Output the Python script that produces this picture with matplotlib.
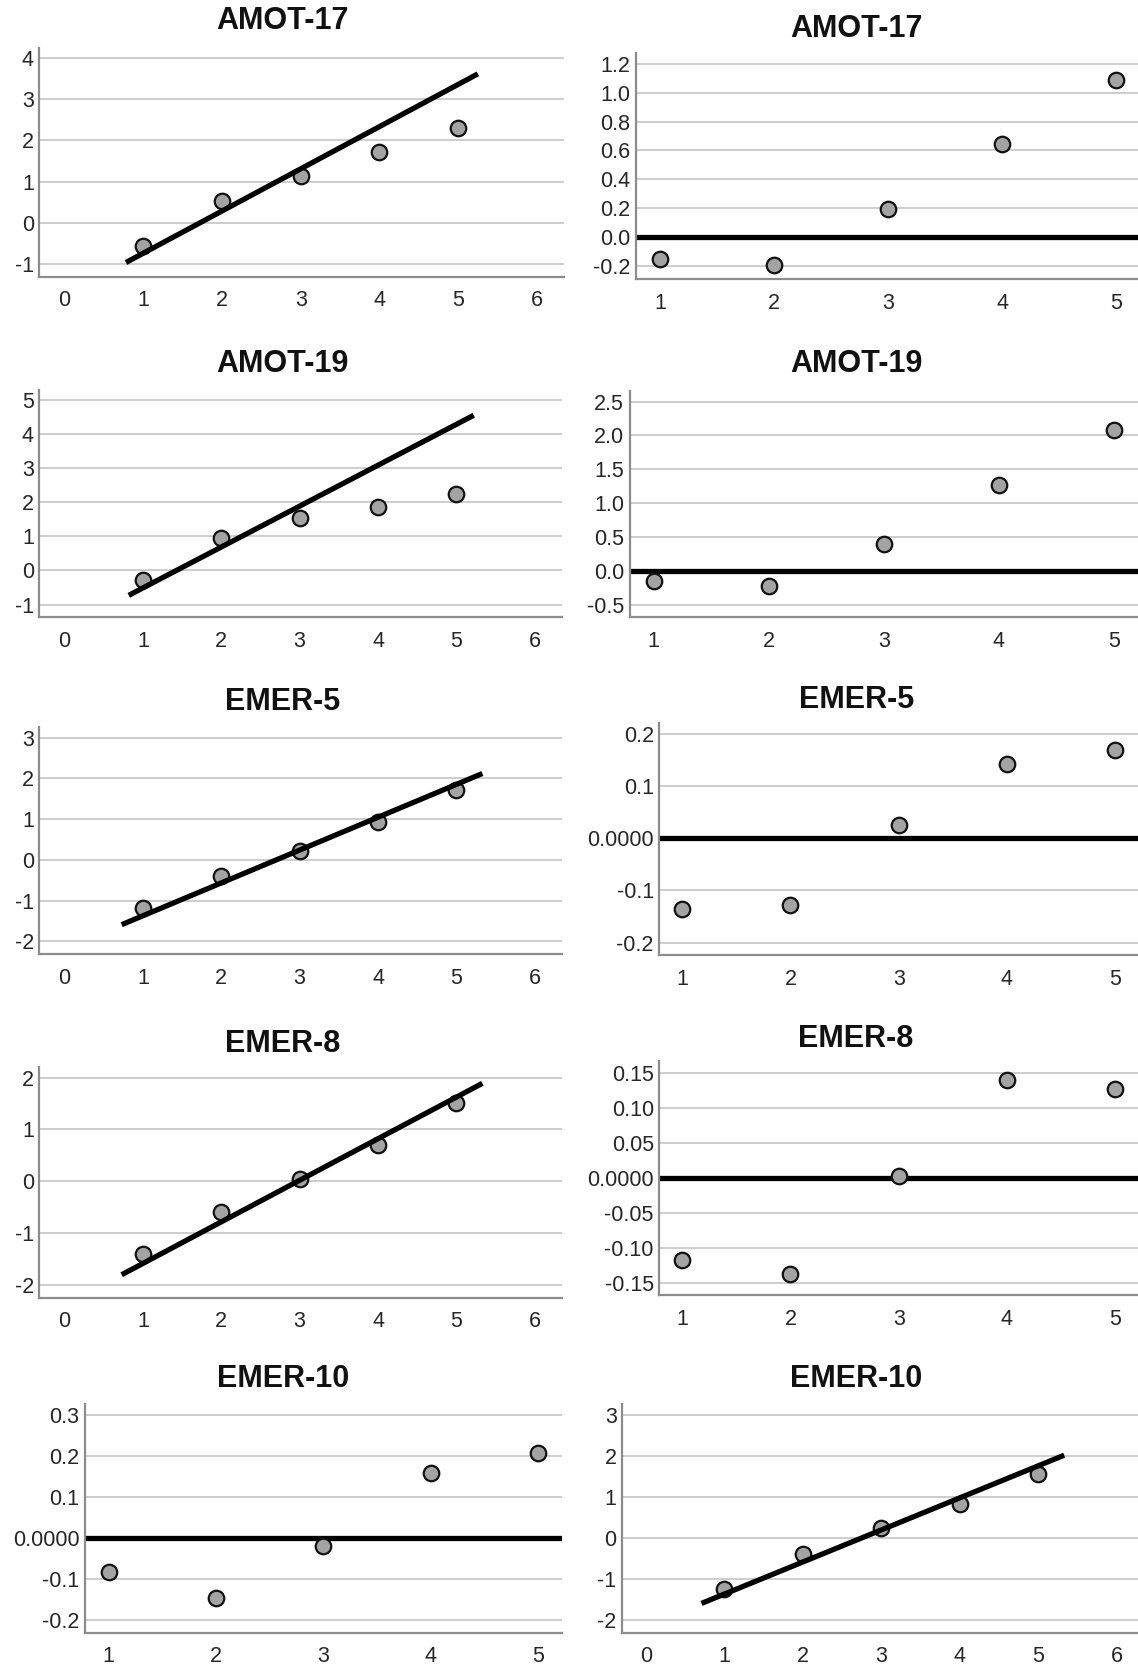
"""Normal Q-Q and detrended Q-Q panels for five items."""

import matplotlib
matplotlib.use("Agg")
import matplotlib.pyplot as plt

plt.rcParams["font.family"] = ["Liberation Sans", "DejaVu Sans"]

# observed values on the x axis (same for every panel)
OBSERVED = [1, 2, 3, 4, 5]

# AMOT-17
AMOT17_EXPECTED = [-0.55, 0.52, 1.14, 1.72, 2.30]
AMOT17_LINE_X = [0.78, 5.25]
AMOT17_LINE_Y = [-0.96, 3.61]
AMOT17_DEVIATION = [-0.154, -0.193, 0.195, 0.645, 1.09]

# AMOT-19
AMOT19_EXPECTED = [-0.29, 0.95, 1.52, 1.86, 2.23]
AMOT19_LINE_X = [0.82, 5.22]
AMOT19_LINE_Y = [-0.73, 4.54]
AMOT19_DEVIATION = [-0.153, -0.217, 0.39, 1.262, 2.084]

# EMER-5
EMER5_EXPECTED = [-1.19, -0.39, 0.22, 0.92, 1.72]
EMER5_LINE_X = [0.73, 5.33]
EMER5_LINE_Y = [-1.59, 2.12]
EMER5_DEVIATION = [-0.135, -0.128, 0.025, 0.143, 0.169]

# EMER-8
EMER8_EXPECTED = [-1.41, -0.60, 0.04, 0.70, 1.52]
EMER8_LINE_X = [0.73, 5.33]
EMER8_LINE_Y = [-1.80, 1.89]
EMER8_DEVIATION = [-0.118, -0.138, 0.002, 0.139, 0.126]

# EMER-10
EMER10_EXPECTED = [-1.26, -0.40, 0.23, 0.82, 1.56]
EMER10_LINE_X = [0.71, 5.33]
EMER10_LINE_Y = [-1.60, 2.01]
EMER10_DEVIATION = [-0.084, -0.148, -0.019, 0.157, 0.207]

QQ_XTICKS = [0, 1, 2, 3, 4, 5, 6]
DETR_XTICKS = [1, 2, 3, 4, 5]

W, H = 1138, 1667
S = W / 1070  # layout measured on the 1070 px preview

fig = plt.figure(figsize=(W / 100, H / 100), dpi=100)

POINT_FACE = "#a3a3a3"
GRID = "#cdcdcd"
SPINE = "#8c8c8c"
TEXT = "#262626"


def make_axes(left, top, right, bottom, title, title_x, title_y):
    ax = fig.add_axes([left * S / W, 1 - bottom * S / H,
                       (right - left) * S / W, (bottom - top) * S / H])
    fig.text(title_x * S / W, 1 - title_y * S / H, title, ha="center",
             va="center", fontsize=22, fontweight="bold", color="#111111")
    return ax


def style(ax, xlim, xticks, ylim, yticks, ylabels):
    ax.set_xlim(*xlim)
    ax.set_ylim(*ylim)
    ax.set_xticks(xticks)
    ax.set_yticks(yticks)
    ax.set_yticklabels(ylabels)
    ax.tick_params(axis="both", length=0, labelsize=15.5, labelcolor=TEXT)
    ax.tick_params(axis="x", pad=10)
    ax.tick_params(axis="y", pad=4)
    for side in ("top", "right"):
        ax.spines[side].set_visible(False)
    for side in ("left", "bottom"):
        ax.spines[side].set_color(SPINE)
        ax.spines[side].set_linewidth(1.6)
    ax.yaxis.grid(True, color=GRID, linewidth=1.4)
    ax.set_axisbelow(True)


def qq_panel(ax, expected, line_x, line_y, ylim, yticks, ylabels,
             xlim=(-0.32, 6.34)):
    ax.scatter(OBSERVED, expected, s=125, c=POINT_FACE, edgecolors="#111111",
               linewidths=1.6, zorder=3)
    ax.plot(line_x, line_y, color="black", linewidth=3.8,
            solid_capstyle="butt", zorder=4)
    style(ax, xlim, QQ_XTICKS, ylim, yticks, ylabels)


def detrended_panel(ax, deviation, ylim, yticks, ylabels, xlim=(0.79, 5.21)):
    ax.axhline(0, color="black", linewidth=3.8, zorder=2)
    ax.scatter(OBSERVED, deviation, s=125, c=POINT_FACE, edgecolors="#111111",
               linewidths=1.6, zorder=3)
    style(ax, xlim, DETR_XTICKS, ylim, yticks, ylabels)


LEFT_X, RIGHT_X = 266, 805

# row 1
ax = make_axes(37, 45, 530, 260, "AMOT-17", LEFT_X, 20)
qq_panel(ax, AMOT17_EXPECTED, AMOT17_LINE_X, AMOT17_LINE_Y, (-1.30, 4.24),
         [-1, 0, 1, 2, 3, 4], ["-1", "0", "1", "2", "3", "4"])
ax = make_axes(598, 50, 1070, 262, "AMOT-17", RIGHT_X, 27)
detrended_panel(ax, AMOT17_DEVIATION, (-0.287, 1.273),
                [-0.2, 0.0, 0.2, 0.4, 0.6, 0.8, 1.0, 1.2],
                ["-0.2", "0.0", "0.2", "0.4", "0.6", "0.8", "1.0", "1.2"],
                xlim=(0.79, 5.19))

# row 2
ax = make_axes(37, 367, 528, 580, "AMOT-19", LEFT_X, 342)
qq_panel(ax, AMOT19_EXPECTED, AMOT19_LINE_X, AMOT19_LINE_Y, (-1.36, 5.27),
         [-1, 0, 1, 2, 3, 4, 5], ["-1", "0", "1", "2", "3", "4", "5"])
ax = make_axes(592, 368, 1070, 580, "AMOT-19", RIGHT_X, 342)
detrended_panel(ax, AMOT19_DEVIATION, (-0.68, 2.65),
                [-0.5, 0.0, 0.5, 1.0, 1.5, 2.0, 2.5],
                ["-0.5", "0.0", "0.5", "1.0", "1.5", "2.0", "2.5"])

# row 3
ax = make_axes(37, 684, 528, 897, "EMER-5", LEFT_X, 660)
qq_panel(ax, EMER5_EXPECTED, EMER5_LINE_X, EMER5_LINE_Y, (-2.31, 3.25),
         [-2, -1, 0, 1, 2, 3], ["-2", "-1", "0", "1", "2", "3"])
ax = make_axes(620, 680, 1070, 898, "EMER-5", RIGHT_X, 658)
detrended_panel(ax, EMER5_DEVIATION, (-0.224, 0.221),
                [-0.2, -0.1, 0.0, 0.1, 0.2],
                ["-0.2", "-0.1", "0.0000", "0.1", "0.2"])

# row 4
ax = make_axes(37, 1003, 528, 1220, "EMER-8", LEFT_X, 982)
qq_panel(ax, EMER8_EXPECTED, EMER8_LINE_X, EMER8_LINE_Y, (-2.24, 2.21),
         [-2, -1, 0, 1, 2], ["-2", "-1", "0", "1", "2"])
ax = make_axes(620, 998, 1070, 1218, "EMER-8", RIGHT_X, 977)
detrended_panel(ax, EMER8_DEVIATION, (-0.168, 0.166),
                [-0.15, -0.10, -0.05, 0.0, 0.05, 0.10, 0.15],
                ["-0.15", "-0.10", "-0.05", "0.0000", "0.05", "0.10", "0.15"])

# row 5 (detrended on the left, Q-Q on the right)
ax = make_axes(80, 1320, 528, 1535, "EMER-10", LEFT_X, 1297)
detrended_panel(ax, EMER10_DEVIATION, (-0.231, 0.326),
                [-0.2, -0.1, 0.0, 0.1, 0.2, 0.3],
                ["-0.2", "-0.1", "0.0000", "0.1", "0.2", "0.3"],
                xlim=(0.78, 5.22))
ax = make_axes(585, 1320, 1070, 1535, "EMER-10", RIGHT_X, 1297)
qq_panel(ax, EMER10_EXPECTED, EMER10_LINE_X, EMER10_LINE_Y, (-2.31, 3.26),
         [-2, -1, 0, 1, 2, 3], ["-2", "-1", "0", "1", "2", "3"],
         xlim=(-0.30, 6.27))

fig.savefig("out.png", dpi=100)
